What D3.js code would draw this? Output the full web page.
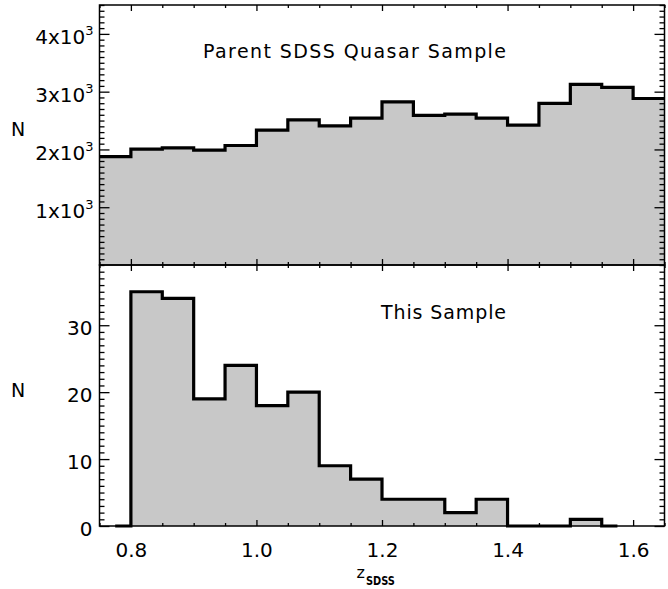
<!DOCTYPE html>
<html>
<head>
<meta charset="utf-8">
<script src="https://cdn.jsdelivr.net/npm/d3@7"></script>
<style>
  html, body { margin: 0; padding: 0; background: #fff; }
  svg { display: block; }
  text { font-family: "DejaVu Sans", sans-serif; fill: #000; }
</style>
</head>
<body>
<svg id="chart" width="668" height="589"></svg>
<script>
// ---- data ----
const topBinStarts = [0.75, 0.80, 0.85, 0.90, 0.95, 1.00, 1.05, 1.10, 1.15, 1.20, 1.25, 1.30, 1.35, 1.40, 1.45, 1.50, 1.55, 1.60];
const topCounts    = [1877, 2005, 2028, 1988, 2068, 2334, 2513, 2409, 2542, 2825, 2588, 2611, 2542, 2421, 2796, 3125, 3073, 2882];

const bottomBinStarts = [0.75, 0.80, 0.85, 0.90, 0.95, 1.00, 1.05, 1.10, 1.15, 1.20, 1.25, 1.30, 1.35, 1.40, 1.45, 1.50, 1.55];
const bottomCounts    = [0, 35, 34, 19, 24, 18, 20, 9, 7, 4, 4, 2, 4, 0, 0, 1, 0];

const binWidth = 0.05;
const xTickValues = [0.8, 1.0, 1.2, 1.4, 1.6];
const topYTickValues = [1000, 2000, 3000, 4000];
const topYTickMant = ["1", "2", "3", "4"];
const bottomYTickValues = [0, 10, 20, 30];

const topTitle = "Parent SDSS Quasar Sample";
const bottomTitle = "This Sample";

// ---- layout ----
const svg = d3.select("#chart");
const L = 99.5, R = 664.5, T = 5, M = 265, B = 526;

const x = d3.scaleLinear().domain([0.75, 1.65]).range([L, R]);
const yTop = d3.scaleLinear().domain([0, 4500]).range([M, T]);
const yBot = d3.scaleLinear().domain([0, 39]).range([B, M]);

const fillColor = "#c8c8c8";

// histogram step paths
function stepPoints(starts, counts, y, xStart, xEnd) {
  const pts = [];
  starts.forEach((s, i) => {
    const a = Math.max(s, xStart), b = Math.min(s + binWidth, xEnd);
    pts.push([x(a), y(counts[i])]);
    pts.push([x(b), y(counts[i])]);
  });
  return pts;
}

function drawHist(starts, counts, y, xStart, xEnd) {
  const pts = stepPoints(starts, counts, y, xStart, xEnd);
  const area = pts.slice();
  area.unshift([pts[0][0], y(0)]);
  area.push([pts[pts.length - 1][0], y(0)]);
  svg.append("path")
    .attr("d", d3.line()(area) + "Z")
    .attr("fill", fillColor)
    .attr("stroke", "none");
  return pts;
}

const topPts = drawHist(topBinStarts, topCounts, yTop, 0.75, 1.65);
const botPts = drawHist(bottomBinStarts, bottomCounts, yBot, 0.775, 1.575);

// ---- axes ----
function minorRange(a, b, step) {
  const out = [];
  const n = Math.round((b - a) / step);
  for (let i = 0; i <= n; i++) out.push(+(a + i * step).toFixed(6));
  return out;
}
const xMinor = minorRange(0.75, 1.65, 0.05).filter(v => !xTickValues.some(t => Math.abs(t - v) < 1e-6));
const topYMinor = minorRange(100, 4500, 100).filter(v => v % 1000 !== 0);
const botYMinor = minorRange(0, 39, 1).filter(v => v % 10 !== 0);

function addAxis(axis, tx, ty, keepText) {
  const g = svg.append("g").attr("transform", `translate(${tx},${ty})`).call(axis);
  g.select(".domain").remove();
  g.selectAll("line").attr("stroke", "#000").attr("stroke-width", 1.3);
  if (!keepText) g.selectAll("text").remove();
  return g;
}

function panelAxes(y, yTicks, yMinor, yTop_, yBottom_, labels) {
  // bottom x axis (ticks up)
  const gxb = addAxis(d3.axisBottom(x).tickValues(xTickValues).tickSizeInner(-6).tickSizeOuter(0).tickFormat(d3.format(".1f")), 0, yBottom_, labels);
  addAxis(d3.axisBottom(x).tickValues(xMinor).tickSizeInner(-3).tickSizeOuter(0), 0, yBottom_, false);
  // top x axis (ticks down)
  addAxis(d3.axisTop(x).tickValues(xTickValues).tickSizeInner(-6).tickSizeOuter(0), 0, yTop_, false);
  addAxis(d3.axisTop(x).tickValues(xMinor).tickSizeInner(-3).tickSizeOuter(0), 0, yTop_, false);
  // left y axis
  const gyl = addAxis(d3.axisLeft(y).tickValues(yTicks).tickSizeInner(-10).tickSizeOuter(0), L, 0, true);
  addAxis(d3.axisLeft(y).tickValues(yMinor).tickSizeInner(-5).tickSizeOuter(0), L, 0, false);
  // right y axis
  addAxis(d3.axisRight(y).tickValues(yTicks).tickSizeInner(-10).tickSizeOuter(0), R, 0, false);
  addAxis(d3.axisRight(y).tickValues(yMinor).tickSizeInner(-5).tickSizeOuter(0), R, 0, false);
  return { gxb, gyl };
}

const topAx = panelAxes(yTop, topYTickValues, topYMinor, T, M, false);
const botAx = panelAxes(yBot, bottomYTickValues, botYMinor, M, B, true);

// style x tick labels (bottom panel)
botAx.gxb.selectAll("text")
  .attr("y", 31).attr("dy", 0)
  .attr("font-size", 20).attr("font-family", "DejaVu Sans, sans-serif");

// bottom y labels
botAx.gyl.selectAll("text")
  .attr("x", -7).attr("dy", 0).attr("y", 9)
  .attr("font-size", 20).attr("font-family", "DejaVu Sans, sans-serif");

// top y labels with superscripts
topAx.gyl.selectAll("text").each(function(d, i) {
  const t = d3.select(this);
  t.text(null)
    .attr("x", -6).attr("dy", 0).attr("y", 10)
    .attr("font-size", 20).attr("font-family", "DejaVu Sans, sans-serif");
  t.append("tspan").text(topYTickMant[i] + "x10");
  t.append("tspan").attr("font-size", 13).attr("dy", -9).text("3");
});

// frames
[[T, M], [M, B]].forEach(([a, b]) => {
  svg.append("rect")
    .attr("x", L).attr("y", a).attr("width", R - L).attr("height", b - a)
    .attr("fill", "none").attr("stroke", "#000").attr("stroke-width", 1.5);
});

// histogram outlines
svg.append("path").attr("d", d3.line()(topPts))
  .attr("fill", "none").attr("stroke", "#000").attr("stroke-width", 3.2).attr("stroke-linejoin", "miter");
svg.append("path").attr("d", d3.line()(botPts))
  .attr("fill", "none").attr("stroke", "#000").attr("stroke-width", 3.2).attr("stroke-linejoin", "miter");

// titles
svg.append("text").attr("x", 203).attr("y", 58).attr("font-size", 19)
  .attr("textLength", 303).attr("lengthAdjust", "spacing").text(topTitle);
svg.append("text").attr("x", 381).attr("y", 319).attr("font-size", 19)
  .attr("textLength", 125).attr("lengthAdjust", "spacing").text(bottomTitle);

// y axis labels
svg.append("text").attr("x", 18).attr("y", 136).attr("text-anchor", "middle").attr("font-size", 19).text("N");
svg.append("text").attr("x", 18).attr("y", 397).attr("text-anchor", "middle").attr("font-size", 19).text("N");

// x axis label
const xl = svg.append("text").attr("x", 356.5).attr("y", 578).attr("font-size", 16);
xl.append("tspan").text("z");
xl.append("tspan").attr("dy", 7).attr("dx", 1).attr("font-size", 13).attr("font-weight", "bold")
  .attr("textLength", 29).attr("lengthAdjust", "spacingAndGlyphs").text("SDSS");
</script>
</body>
</html>
